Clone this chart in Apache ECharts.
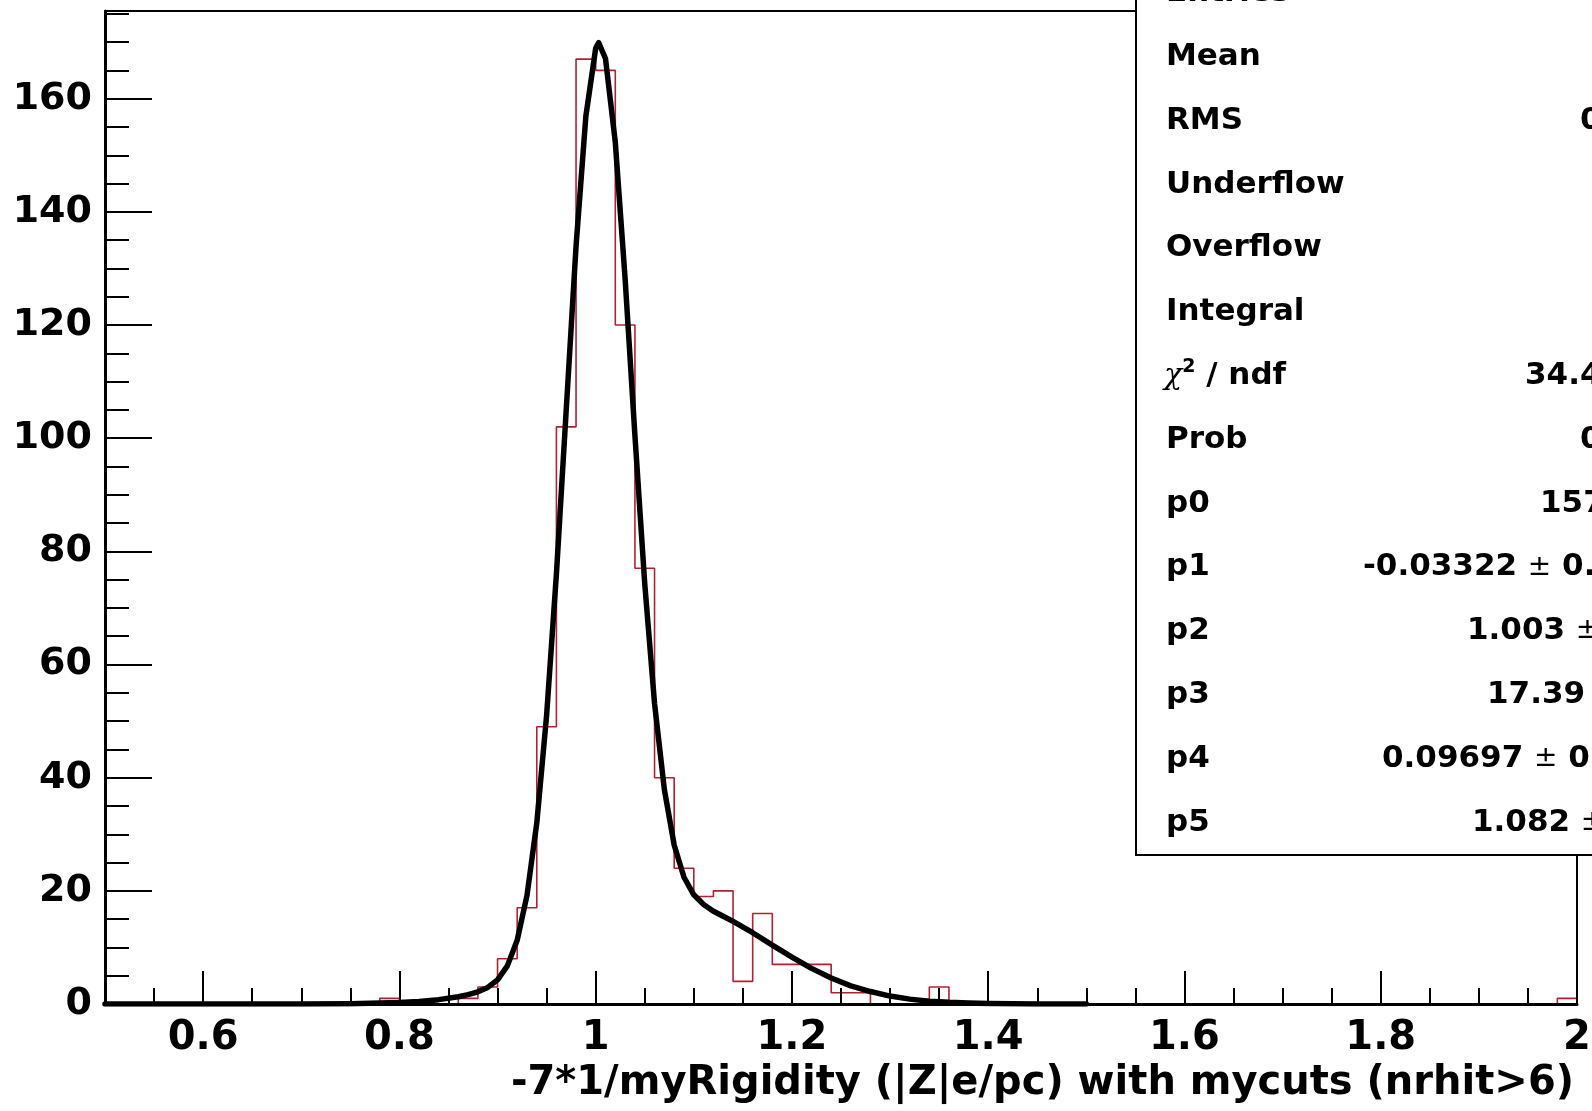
<!DOCTYPE html>
<html>
<head>
<meta charset="utf-8">
<script src="https://cdn.jsdelivr.net/npm/echarts@6/dist/echarts.min.js"></script>
<style>
  html, body { margin: 0; padding: 0; background: #fff; }
  #chart { width: 1592px; height: 1111px; }
</style>
</head>
<body>
<div id="chart"></div>
<script>
// Histogram: fixed bins of width 0.02 over [0.5, 2.0]; only the filled bins are listed
const binWidth = 0.02;
const histMin = 0.5;
const histMax = 2.0;
const binLow   = [0.78, 0.86, 0.88, 0.90, 0.92, 0.94, 0.96, 0.98, 1.00, 1.02, 1.04, 1.06, 1.08, 1.10, 1.12, 1.14, 1.16, 1.18, 1.20, 1.22, 1.24, 1.26, 1.34, 1.98];
const binCount = [1,    1,    3,    8,    17,   49,   102,  167,  165,  120,  77,   40,   24,   19,   20,   4,    16,   7,    7,    7,    2,    2,    3,    1];

// Fitted function, sampled along the drawn curve (x from 0.5 to 1.5)
const fitX = [0.50, 0.60, 0.70, 0.75, 0.80, 0.82, 0.84, 0.86, 0.87, 0.88, 0.89, 0.90, 0.91, 0.92, 0.93, 0.94, 0.95, 0.96, 0.97, 0.98, 0.99, 1.00, 1.003, 1.01, 1.02, 1.03, 1.04, 1.05, 1.06, 1.07, 1.08, 1.09, 1.10, 1.11, 1.12, 1.13, 1.14, 1.16, 1.18, 1.20, 1.22, 1.24, 1.26, 1.28, 1.30, 1.32, 1.34, 1.36, 1.38, 1.40, 1.45, 1.50];
const fitY = [0.00, 0.00, 0.01, 0.05, 0.25, 0.45, 0.77, 1.28, 1.65, 2.15, 2.93, 4.27, 6.74, 11.25, 19.17, 32.0, 51.0, 76.0, 105.0, 133.9, 156.9, 168.9, 169.9, 167.1, 152.3, 128.2, 100.5, 74.3, 53.1, 37.9, 28.1, 22.4, 19.3, 17.6, 16.4, 15.5, 14.6, 12.6, 10.4, 8.3, 6.3, 4.6, 3.2, 2.2, 1.4, 0.86, 0.5, 0.29, 0.16, 0.08, 0.01, 0.00];

// Statistics box rows (values run past the right edge of the canvas)
const statNames  = ['Entries', 'Mean', 'RMS', 'Underflow', 'Overflow', 'Integral', 'chi2', 'Prob', 'p0', 'p1', 'p2', 'p3', 'p4', 'p5'];
const statValues = ['', '', '0.0', '', '', '', '34.4', '0.0', '157', '-0.03322 {pm|±} 0.0', '1.003 {pm|±}', '17.39 {pm|±}', '0.09697 {pm|±} 0.0', '1.082 {pm|±}'];
const statValueX = [0, 0, 1580, 0, 0, 0, 1525, 1580, 1540, 1363, 1467, 1487, 1382, 1472];

const yMax = 175.5;
const xTitle = '-7*1/myRigidity (|Z|e/pc) with mycuts (nrhit>6)';

// Build the step outline of the histogram from the bin list
const nBins = Math.round((histMax - histMin) / binWidth);
const counts = new Array(nBins).fill(0);
binLow.forEach((lo, i) => {
  counts[Math.round((lo - histMin) / binWidth)] = binCount[i];
});
const histData = [[histMin, 0]];
for (let k = 0; k < nBins; k++) {
  histData.push([+(histMin + k * binWidth).toFixed(4), counts[k]]);
}
histData.push([histMax, counts[nBins - 1]]);
histData.push([histMax, 0]);

const fitData = fitX.map((x, i) => [x, fitY[i]]);

const FONT = '"DejaVu Sans", "Liberation Sans", Arial, sans-serif';
const statFont = 'bold 31px ' + FONT;

// Axis title, right-aligned under the tick labels
const graphics = [{
  type: 'text',
  z: 50,
  x: 1574, y: 1084,
  style: {
    text: xTitle, font: 'bold 40px ' + FONT, fill: '#000',
    align: 'right', verticalAlign: 'middle'
  }
}, {
  // Statistics box
  type: 'rect',
  z: 100,
  shape: { x: 1136, y: -20, width: 520, height: 875 },
  style: { fill: '#fff', stroke: '#000', lineWidth: 2 }
}];

statNames.forEach((name, k) => {
  const y = 57 + 63.8 * (k - 1);
  let label;
  if (name === 'chi2') {
    label = {
      type: 'text', z: 101, x: 1164, y: y,
      style: {
        text: '{c|χ}{s|2}{n| / ndf}',
        verticalAlign: 'middle',
        fill: '#000',
        rich: {
          c: { font: 'italic 30px "DejaVu Serif", serif', fill: '#000', lineHeight: 36 },
          s: { font: 'bold 19px ' + FONT, fill: '#000', verticalAlign: 'top', lineHeight: 36 },
          n: { font: statFont, fill: '#000', lineHeight: 36 }
        }
      }
    };
  } else {
    label = {
      type: 'text', z: 101, x: 1166, y: y,
      style: { text: name, font: statFont, fill: '#000', verticalAlign: 'middle' }
    };
  }
  graphics.push(label);
  if (statValues[k]) {
    graphics.push({
      type: 'text', z: 101, x: statValueX[k], y: y,
      style: {
        text: statValues[k], font: statFont, fill: '#000', verticalAlign: 'middle',
        rich: { pm: { font: '28px ' + FONT, fill: '#000' } }
      }
    });
  }
});

const chart = echarts.init(document.getElementById('chart'), null, { renderer: 'canvas' });
chart.setOption({
  animation: false,
  backgroundColor: '#fff',
  grid: {
    left: 105, top: 11, width: 1472, height: 993,
    containLabel: false, outerBoundsMode: 'none',
    show: true, borderColor: '#000', borderWidth: 2, backgroundColor: 'transparent'
  },
  xAxis: {
    type: 'value',
    z: 4,
    min: histMin, max: histMax,
    splitNumber: 8, minInterval: 0.2, maxInterval: 0.2,
    axisLine: { show: true, onZero: false, lineStyle: { color: '#000', width: 3 } },
    axisTick: { show: true, inside: true, length: 33, lineStyle: { color: '#000', width: 2 } },
    minorTick: { show: true, splitNumber: 4, length: 16, lineStyle: { color: '#000', width: 2 } },
    splitLine: { show: false },
    axisLabel: {
      showMinLabel: false, margin: 15, color: '#000',
      fontFamily: FONT, fontWeight: 'bold', fontSize: 40
    }
  },
  yAxis: {
    type: 'value',
    z: 4,
    min: 0, max: yMax, interval: 20,
    axisLine: { show: true, onZero: false, lineStyle: { color: '#000', width: 3 } },
    axisTick: { show: true, inside: true, length: 47, lineStyle: { color: '#000', width: 2 } },
    minorTick: { show: true, splitNumber: 4, length: 24, lineStyle: { color: '#000', width: 2 } },
    splitLine: { show: false },
    axisLabel: {
      showMaxLabel: false, margin: 13, color: '#000',
      fontFamily: FONT, fontWeight: 'bold', fontSize: 38
    }
  },
  series: [{
    name: 'histogram',
    type: 'line',
    step: 'end',
    data: histData,
    symbol: 'none',
    lineStyle: { color: '#b22034', width: 1.6 },
    z: 2
  }, {
    name: 'fit',
    type: 'line',
    data: fitData,
    symbol: 'none',
    smooth: false,
    lineStyle: { color: '#000', width: 5.5, join: 'round', cap: 'round' },
    z: 3
  }],
  graphic: graphics
});
</script>
</body>
</html>
